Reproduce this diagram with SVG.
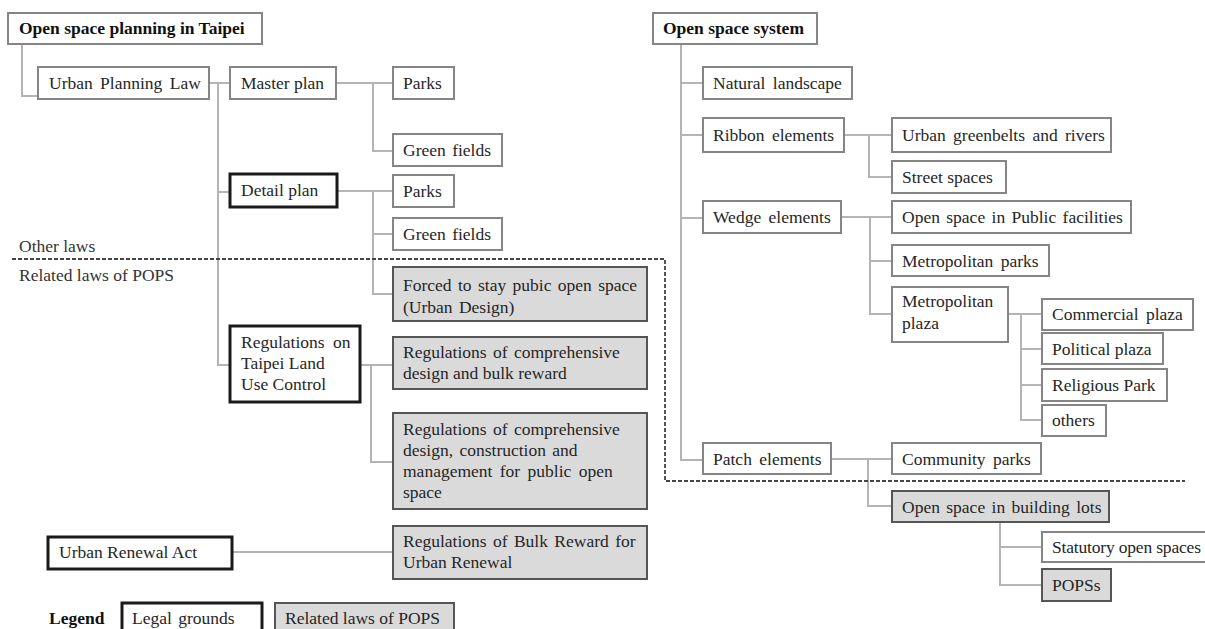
<svg xmlns="http://www.w3.org/2000/svg" width="1205" height="629" viewBox="0 0 1205 629">
<style>
text{font-family:"Liberation Serif","Times New Roman",serif;font-size:17.5px;fill:#262626}
.b{font-weight:bold;fill:#111}
.n{fill:#fff;stroke:#858585;stroke-width:2}
.t{fill:#fff;stroke:#1a1a1a;stroke-width:3}
.g{fill:#dadada;stroke:#555;stroke-width:2}
.c{fill:none;stroke:#b4b4b4;stroke-width:2}
.d{fill:none;stroke:#444;stroke-width:1.8;stroke-dasharray:4 2}
.lab{fill:#333}
</style>
<rect width="1205" height="629" fill="#fff"/>
<g id="connectors">
<path class="c" d="M22,44V96H38"/>
<path class="c" d="M209,83H230M218,83V365H230M218,192H230"/>
<path class="c" d="M336,83H393M373,83V151H393"/>
<path class="c" d="M337,191H393M373,191V294H393M373,234H393"/>
<path class="c" d="M360,365H393M371,365V462H393"/>
<path class="c" d="M232,552H393"/>
<path class="c" d="M681,44V460H703M681,83H703M681,135H703M681,218H703"/>
<path class="c" d="M844,135H892M869,135V177H892"/>
<path class="c" d="M841,217H892M870,217V314H892M870,261H892"/>
<path class="c" d="M1008,314H1042M1021,314V420H1042M1021,349H1042M1021,385H1042"/>
<path class="c" d="M831,459H892M868,459V506H892"/>
<path class="c" d="M1000,522V585H1042M1000,547H1042"/>
</g>
<g id="divider">
<path class="d" d="M12,259H665V481H1185"/>
<text class="lab" x="19" y="252">Other laws</text>
<text class="lab" x="19" y="281">Related laws of POPS</text>
</g>
<g id="n-title"><rect class="n" x="8" y="13" width="254" height="31"/><text class="b" x="19" y="34">Open space planning in Taipei</text></g>
<g id="n-upl"><rect class="n" x="38" y="67" width="171" height="32"/><text x="49" y="89" word-spacing="3">Urban Planning Law</text></g>
<g id="n-master"><rect class="n" x="230" y="67" width="106" height="32"/><text x="241" y="89">Master plan</text></g>
<g id="n-parks1"><rect class="n" x="393" y="67" width="61" height="32"/><text x="403" y="89">Parks</text></g>
<g id="n-green1"><rect class="n" x="393" y="134" width="109" height="32"/><text x="403" y="156" word-spacing="2">Green fields</text></g>
<g id="n-detail"><rect class="t" x="230" y="174" width="107" height="33"/><text x="241" y="196">Detail plan</text></g>
<g id="n-parks2"><rect class="n" x="393" y="175" width="61" height="32"/><text x="403" y="197">Parks</text></g>
<g id="n-green2"><rect class="n" x="393" y="218" width="109" height="32"/><text x="403" y="240" word-spacing="2">Green fields</text></g>
<g id="n-forced"><rect class="g" x="393" y="267" width="254" height="54"/><text x="403" y="291" word-spacing="2">Forced to stay pubic open space</text><text x="403" y="313" word-spacing="2">(Urban Design)</text></g>
<g id="n-regtaipei"><rect class="t" x="230" y="326" width="130" height="76"/><text x="241" y="348" word-spacing="4">Regulations on</text><text x="241" y="369">Taipei Land</text><text x="241" y="390">Use Control</text></g>
<g id="n-regbulk"><rect class="g" x="393" y="337" width="254" height="52"/><text x="403" y="358" word-spacing="2">Regulations of comprehensive</text><text x="403" y="379">design and bulk reward</text></g>
<g id="n-regdesign"><rect class="g" x="393" y="413" width="254" height="96"/><text x="403" y="435" word-spacing="2">Regulations of comprehensive</text><text x="403" y="456" word-spacing="2">design, construction and</text><text x="403" y="477" word-spacing="3">management for public open</text><text x="403" y="498">space</text></g>
<g id="n-ura"><rect class="t" x="48" y="537" width="184" height="32"/><text x="59" y="558">Urban Renewal Act</text></g>
<g id="n-regrenewal"><rect class="g" x="393" y="526" width="254" height="53"/><text x="403" y="547" word-spacing="2">Regulations of Bulk Reward for</text><text x="403" y="568">Urban Renewal</text></g>
<g id="legend">
<text class="b" x="49" y="624">Legend</text>
<rect class="t" x="122" y="603" width="140" height="40"/><text x="132" y="624" word-spacing="2">Legal grounds</text>
<rect class="g" x="275" y="603" width="179" height="40"/><text x="285" y="624">Related laws of POPS</text>
</g>
<g id="n-oss"><rect class="n" x="653" y="13" width="164" height="31"/><text class="b" x="663" y="34">Open space system</text></g>
<g id="n-natural"><rect class="n" x="703" y="67" width="149" height="32"/><text x="713" y="89" word-spacing="3">Natural landscape</text></g>
<g id="n-ribbon"><rect class="n" x="703" y="118" width="141" height="34"/><text x="713" y="141" word-spacing="3">Ribbon elements</text></g>
<g id="n-greenbelts"><rect class="n" x="892" y="118" width="219" height="34"/><text x="902" y="141" word-spacing="3">Urban greenbelts and rivers</text></g>
<g id="n-street"><rect class="n" x="892" y="161" width="114" height="32"/><text x="902" y="183">Street spaces</text></g>
<g id="n-wedge"><rect class="n" x="703" y="201" width="138" height="32"/><text x="713" y="223" word-spacing="3">Wedge elements</text></g>
<g id="n-ospf"><rect class="n" x="892" y="201" width="239" height="32"/><text x="902" y="223" word-spacing="2">Open space in Public facilities</text></g>
<g id="n-metroparks"><rect class="n" x="892" y="245" width="157" height="31"/><text x="902" y="267" word-spacing="3">Metropolitan parks</text></g>
<g id="n-metroplaza"><rect class="n" x="892" y="287" width="116" height="55"/><text x="902" y="307">Metropolitan</text><text x="902" y="329">plaza</text></g>
<g id="n-commercial"><rect class="n" x="1042" y="299" width="151" height="31"/><text x="1052" y="320" word-spacing="3">Commercial plaza</text></g>
<g id="n-political"><rect class="n" x="1042" y="333" width="121" height="31"/><text x="1052" y="355">Political plaza</text></g>
<g id="n-religious"><rect class="n" x="1042" y="369" width="125" height="32"/><text x="1052" y="391">Religious Park</text></g>
<g id="n-others"><rect class="n" x="1042" y="405" width="64" height="31"/><text x="1052" y="426">others</text></g>
<g id="n-patch"><rect class="n" x="703" y="443" width="128" height="31"/><text x="713" y="465" word-spacing="3">Patch elements</text></g>
<g id="n-community"><rect class="n" x="892" y="443" width="149" height="31"/><text x="902" y="465" word-spacing="3">Community parks</text></g>
<g id="n-oslots"><rect class="g" x="892" y="491" width="217" height="31"/><text x="902" y="513" word-spacing="2">Open space in building lots</text></g>
<g id="n-statutory"><rect class="n" x="1042" y="532" width="175" height="30"/><text x="1052" y="553" font-size="17" textLength="149" lengthAdjust="spacing">Statutory open spaces</text></g>
<g id="n-popss"><rect class="g" x="1042" y="569" width="69" height="32"/><text x="1052" y="591">POPSs</text></g>
</svg>
